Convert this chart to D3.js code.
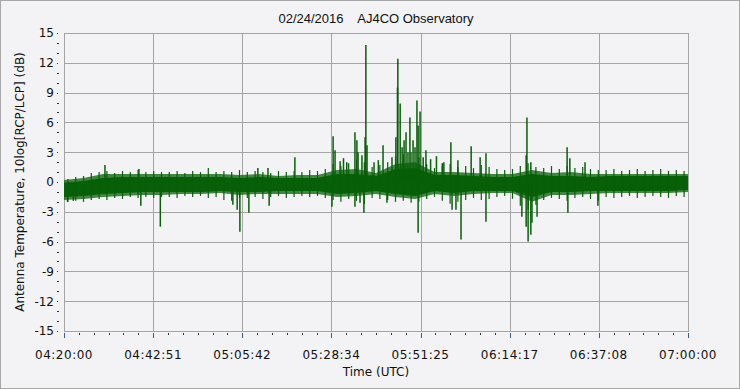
<!DOCTYPE html>
<html>
<head>
<meta charset="utf-8">
<script src="https://cdn.jsdelivr.net/npm/d3@7"></script>
<style>
body { margin: 0; background: #f3f3f5; }
text { font-family: "DejaVu Sans", Verdana, sans-serif; fill: #111; }
</style>
</head>
<body>
<div id="chart"></div>
<script>
// sample times of the noise band (every 5 min)
const bandTimes = ["04:20:00","04:25:00","04:30:00","04:35:00","04:40:00","04:45:00","04:50:00","04:55:00",
	"05:00:00","05:05:00","05:10:00","05:15:00","05:20:00","05:25:00","05:30:00","05:35:00","05:40:00",
	"05:45:00","05:50:00","05:55:00","06:00:00","06:05:00","06:10:00","06:15:00","06:20:00","06:25:00",
	"06:30:00","06:35:00","06:40:00","06:45:00","06:50:00","06:55:00","07:00:00"];

// outer (fringe) edges of the band, dB
const fringeHi = [0.2,0.4,0.8,0.8,0.8,0.8,0.8,0.8,0.8,0.7,0.8,0.6,0.7,0.7,1.2,1.3,0.9,1.8,2.0,1.0,1.0,0.9,0.8,0.8,1.2,0.9,1.0,0.8,0.8,0.8,0.8,0.8,0.8];
const fringeLo = [-1.8,-1.7,-1.5,-1.4,-1.3,-1.3,-1.2,-1.2,-1.1,-1.3,-1.2,-1.2,-1.2,-1.2,-1.5,-1.4,-1.2,-1.5,-1.7,-1.2,-1.4,-1.2,-1.1,-1.1,-2.0,-1.3,-1.3,-1.2,-1.1,-1.1,-1.1,-1.1,-1.0];
// solid core of the band, dB
const coreHi = [-0.1,0.1,0.4,0.5,0.5,0.5,0.5,0.5,0.5,0.4,0.5,0.4,0.4,0.4,0.8,0.8,0.6,1.3,1.4,0.7,0.7,0.6,0.5,0.5,0.8,0.6,0.6,0.5,0.6,0.6,0.6,0.6,0.6];
const coreLo = [-1.5,-1.4,-1.2,-1.1,-1.0,-1.0,-1.0,-1.0,-0.9,-1.0,-1.0,-0.9,-0.9,-0.9,-1.2,-1.1,-0.9,-1.2,-1.4,-0.9,-1.1,-0.9,-0.9,-0.9,-1.5,-1.0,-1.0,-0.9,-0.9,-0.9,-0.9,-0.9,-0.8];

// ragged edge of the band: small excursions every 2 min, dB
const edgeTimes = ["04:21","04:23","04:25","04:27","04:29","04:31","04:33","04:35","04:37","04:39",
	"04:41","04:43","04:45","04:47","04:49","04:51","04:53","04:55","04:57","04:59",
	"05:01","05:03","05:05","05:07","05:09","05:11","05:13","05:15","05:17","05:19",
	"05:21","05:23","05:25","05:27","05:29","05:31","05:33","05:35","05:37","05:39",
	"05:41","05:43","05:45","05:47","05:49","05:51","05:53","05:55","05:57","05:59",
	"06:01","06:03","06:05","06:07","06:09","06:11","06:13","06:15","06:17","06:19",
	"06:21","06:23","06:25","06:27","06:29","06:31","06:33","06:35","06:37","06:39",
	"06:41","06:43","06:45","06:47","06:49","06:51","06:53","06:55","06:57","06:59"];
const edgeUp = [0.3,0.5,0.6,0.9,1.0,1.1,0.9,1.1,1.0,1.2, 1.0,1.1,1.0,1.0,1.1,0.9,1.1,1.0,1.4,1.0,
	1.1,1.0,1.2,1.0,1.1,1.0,0.9,1.1,1.0,1.1, 1.0,1.2,1.1,1.3,1.8,1.6,1.9,2.2,2.0,1.5,
	1.7,2.0,2.6,2.8,3.0,2.5,1.8,1.4,1.6,1.8, 1.5,1.6,1.4,1.7,1.5,1.3,1.2,1.3,1.6,1.9,
	1.5,1.4,1.6,1.3,1.6,1.4,1.5,1.3,1.2,1.2, 1.3,1.1,1.2,1.3,1.1,1.2,1.3,1.1,1.2,1.1];
const edgeDown = [-2.0,-1.9,-2.0,-1.8,-1.7,-1.8,-1.6,-1.7,-1.5,-1.6, -1.5,-1.6,-1.5,-1.5,-1.6,-1.4,-1.5,-1.4,-1.6,-1.5,
	-1.8,-1.9,-1.6,-1.6,-1.5,-1.7,-1.5,-1.4,-1.6,-1.5, -1.4,-1.5,-1.4,-1.6,-1.8,-2.0,-1.7,-1.9,-2.2,-1.6,
	-1.7,-1.8,-2.0,-1.9,-2.1,-2.0,-1.7,-1.5,-1.9,-2.2, -2.0,-1.8,-1.6,-1.8,-1.7,-1.5,-1.4,-1.7,-2.4,-2.8,
	-2.3,-1.8,-1.6,-1.7,-1.9,-1.6,-1.5,-1.7,-1.9,-1.5, -1.6,-1.5,-1.4,-1.6,-1.5,-1.4,-1.5,-1.6,-1.4,-1.5];

// individual bursts [time, dB]
const upSpikes = [
	["04:30:30",1.7],["04:39:12",1.3],["05:09:42",1.4],["05:12:18",1.4],["05:19:12",2.5],
	["05:29:00",4.6],["05:29:30",3.2],["05:30:48",2.1],["05:31:40",2.4],["05:32:30",2.0],
	["05:34:36",5.0],["05:35:06",4.2],["05:35:24",3.0],["05:36:24",2.7],["05:37:12",4.5],
	["05:37:24",13.8],["05:37:42",3.7],["05:39:30",2.0],["05:40:36",2.2],["05:41:48",3.7],
	["05:44:06",2.5],["05:45:06",4.5],["05:45:30",9.5],["05:45:36",12.4],["05:46:12",7.9],
	["05:46:42",3.5],["05:47:12",4.2],["05:47:42",5.0],["05:48:12",3.0],["05:48:42",6.5],
	["05:49:30",4.2],["05:50:00",3.5],["05:50:30",8.2],["05:50:48",5.7],["05:51:18",7.1],
	["05:52:06",2.5],["05:52:48",3.2],["05:54:00",2.3],["05:55:30",2.6],["05:57:00",1.9],
	["05:57:24",2.0],["05:59:12",4.0],["06:01:00",2.2],["06:04:24",3.6],["06:06:42",2.5],
	["06:08:12",2.9],["06:18:30",2.7],["06:18:42",6.5],["06:19:42",2.0],["06:29:00",3.5],
	["06:29:42",2.4],["06:33:36",2.0]
];
const downSpikes = [
	["04:20:54",-2.0],["04:22:24",-1.9],["04:39:42",-2.4],["04:44:42",-4.5],["05:03:18",-2.3],
	["05:04:24",-2.8],["05:05:06",-5.0],["05:07:24",-3.1],["05:12:36",-2.4],["05:28:42",-2.5],
	["05:34:36",-2.5],["05:35:54",-2.1],["05:36:54",-3.1],["05:42:48",-2.1],["05:50:48",-5.1],
	["05:59:30",-2.8],["06:00:30",-2.8],["06:01:48",-5.8],["06:08:12",-4.0],["06:17:24",-3.5],
	["06:18:30",-4.5],["06:19:00",-6.0],["06:19:42",-5.3],["06:20:00",-4.1],["06:21:18",-3.5],
	["06:29:12",-3.1],["06:36:54",-2.4]
];

const xTickLabels = ["04:20:00","04:42:51","05:05:42","05:28:34","05:51:25","06:14:17","06:37:08","07:00:00"];
const yTickValues = [-15,-12,-9,-6,-3,0,3,6,9,12,15];

const width = 740, height = 389;
const margin = { top: 33, right: 52, bottom: 58, left: 64 };
const green = "#075f07";

const parseT = d3.timeParse("%H:%M:%S");
const parseHM = d3.timeParse("%H:%M");

const x = d3.scaleTime()
	.domain([parseT("04:20:00"), parseT("07:00:00")])
	.range([margin.left, width - margin.right]);

const y = d3.scaleLinear()
	.domain([-15, 15])
	.range([height - margin.bottom, margin.top]);

const svg = d3.select("#chart").append("svg")
	.attr("width", width)
	.attr("height", height);

// frame
svg.append("rect")
	.attr("x", 0.5).attr("y", 0.5)
	.attr("width", width - 1).attr("height", height - 1)
	.attr("fill", "#f3f3f5")
	.attr("stroke", "#a8a8a8");

// title
svg.append("text")
	.attr("x", (margin.left + width - margin.right) / 2)
	.attr("y", 23)
	.attr("text-anchor", "middle")
	.style("font-family", "'Liberation Sans', Arial, sans-serif")
	.style("font-size", "13px")
	.style("white-space", "pre")
	.text("02/24/2016    AJ4CO Observatory");

const x0 = margin.left, x1 = width - margin.right;
const yTop = margin.top, yBot = height - margin.bottom;

// grid
const grid = svg.append("g").attr("stroke", "#a4a4a4").attr("shape-rendering", "crispEdges");
grid.selectAll(".hg").data(yTickValues).join("line")
	.attr("x1", x0).attr("x2", x1)
	.attr("y1", d => Math.round(y(d)) + 0.5).attr("y2", d => Math.round(y(d)) + 0.5);
grid.selectAll(".vg").data(xTickLabels).join("line")
	.attr("x1", d => Math.round(x(parseT(d))) + 0.5).attr("x2", d => Math.round(x(parseT(d))) + 0.5)
	.attr("y1", yTop).attr("y2", yBot);
grid.append("rect")
	.attr("x", x0 + 0.5).attr("y", yTop + 0.5)
	.attr("width", x1 - x0).attr("height", yBot - yTop)
	.attr("fill", "none");

// data
const band = bandTimes.map((t, i) => ({
	t: parseT(t), fh: fringeHi[i], fl: fringeLo[i], ch: coreHi[i], cl: coreLo[i]
}));

const plot = svg.append("g");

plot.append("path")
	.datum(band)
	.attr("fill", green)
	.attr("fill-opacity", 0.75)
	.attr("d", d3.area().x(d => x(d.t)).y0(d => y(d.fl)).y1(d => y(d.fh)));

plot.append("path")
	.datum(band)
	.attr("fill", green)
	.attr("d", d3.area().x(d => x(d.t)).y0(d => y(d.cl)).y1(d => y(d.ch)));

const edges = edgeTimes.flatMap((t, i) => [[parseHM(t), edgeUp[i]], [parseHM(t), edgeDown[i]]]);
plot.selectAll(".edge").data(edges).join("line")
	.attr("x1", d => x(d[0])).attr("x2", d => x(d[0]))
	.attr("y1", y(-0.3)).attr("y2", d => y(d[1]))
	.attr("stroke", green)
	.attr("stroke-width", 1.2);

const spikes = upSpikes.concat(downSpikes).map(d => [parseT(d[0]), d[1]]);
plot.selectAll(".spike").data(spikes).join("line")
	.attr("x1", d => x(d[0])).attr("x2", d => x(d[0]))
	.attr("y1", y(0)).attr("y2", d => y(d[1]))
	.attr("stroke", green)
	.attr("stroke-width", 1.5);

// y axis labels and ticks
const yAxis = svg.append("g");
yAxis.selectAll(".yl").data(yTickValues).join("text")
	.attr("x", 54)
	.attr("y", d => y(d))
	.attr("dy", "0.36em")
	.attr("text-anchor", "end")
	.style("font-size", "12px")
	.text(d => d);
yAxis.selectAll(".ydot").data(yTickValues).join("rect")
	.attr("x", 57).attr("y", d => Math.round(y(d)))
	.attr("width", 1).attr("height", 1)
	.attr("fill", "#333");
yAxis.selectAll(".ymin").data(d3.range(-15, 16).filter(v => v % 3 !== 0)).join("rect")
	.attr("x", 57).attr("y", d => Math.round(y(d)))
	.attr("width", 2).attr("height", 1)
	.attr("fill", "#333");

// x axis labels and ticks
const xAxis = svg.append("g");
const t0 = parseT("04:20:00").getTime(), t1 = parseT("07:00:00").getTime();
const minorTicks = d3.range(0, 43).map(i => new Date(t0 + i * (t1 - t0) / 42));
xAxis.selectAll(".xmin").data(minorTicks).join("rect")
	.attr("x", d => Math.round(x(d)))
	.attr("y", yBot + 2)
	.attr("width", 1).attr("height", 2)
	.attr("fill", "#333");
xAxis.selectAll(".xmaj").data(xTickLabels).join("rect")
	.attr("x", d => Math.round(x(parseT(d))))
	.attr("y", yBot + 2)
	.attr("width", 1).attr("height", 5)
	.attr("fill", "#3a5a8a");
xAxis.selectAll(".xl").data(xTickLabels).join("text")
	.attr("x", d => x(parseT(d)))
	.attr("y", yBot + 28)
	.attr("text-anchor", "middle")
	.style("font-size", "12px")
	.style("letter-spacing", "0.5px")
	.text(d => d);

svg.append("text")
	.attr("x", (x0 + x1) / 2)
	.attr("y", yBot + 45)
	.attr("text-anchor", "middle")
	.style("font-size", "12px")
	.text("Time (UTC)");

svg.append("text")
	.attr("transform", `translate(24,${(yTop + yBot) / 2}) rotate(-90)`)
	.attr("text-anchor", "middle")
	.style("font-size", "12px")
	.text("Antenna Temperature, 10log[RCP/LCP] (dB)");
</script>
</body>
</html>
